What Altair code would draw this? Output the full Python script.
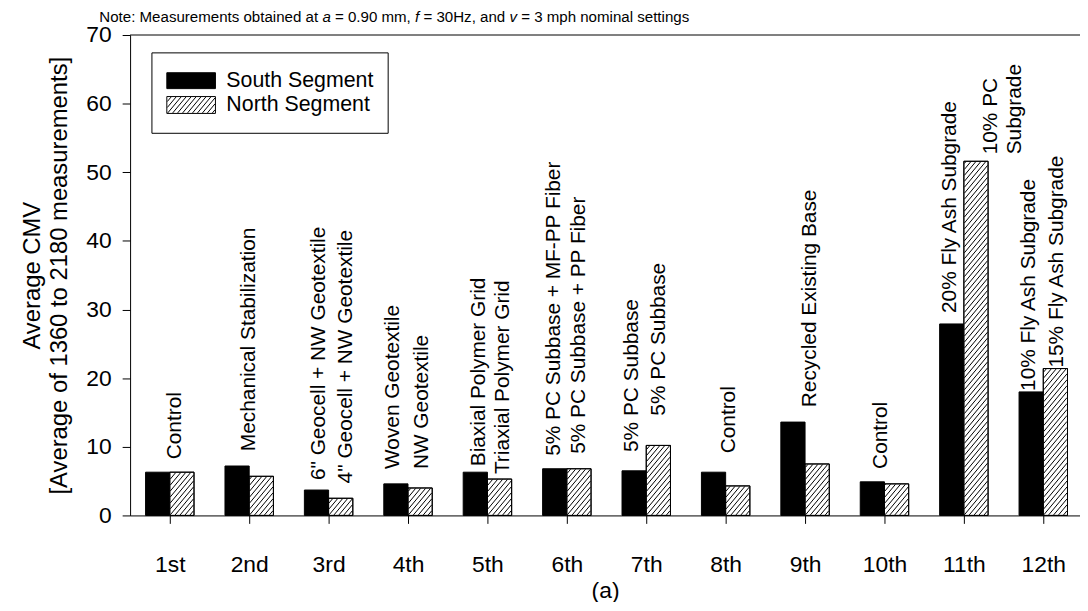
import json
import altair as alt
import numpy as np
import pandas as pd

# ---------------- data ----------------
ordinals = ["1st", "2nd", "3rd", "4th", "5th", "6th", "7th", "8th", "9th", "10th", "11th", "12th"]
south_cmv = [6.3, 7.2, 3.7, 4.6, 6.3, 6.8, 6.5, 6.3, 13.6, 4.9, 27.9, 18.0]
north_cmv = [6.3, 5.7, 2.5, 4.0, 5.3, 6.8, 10.2, 4.3, 7.5, 4.6, 51.6, 21.4]

label_section = [1, 2, 3, 3, 4, 4, 5, 5, 6, 6, 7, 7, 8, 9, 10, 11, 11, 12, 12]
label_side = ["C", "C", "S", "N", "S", "N", "S", "N", "S", "N", "S", "N", "C", "C", "C", "S", "N", "S", "N"]
label_text = [
    "Control",
    "Mechanical Stabilization",
    '6" Geocell + NW Geotextile',
    '4" Geocell + NW Geotextile',
    "Woven Geotextile",
    "NW Geotextile",
    "Biaxial Polymer Grid",
    "Triaxial Polymer Grid",
    "5% PC Subbase + MF-PP Fiber",
    "5% PC Subbase + PP Fiber",
    "5% PC Subbase",
    "5% PC Subbase",
    "Control",
    "Recycled Existing Base",
    "Control",
    "20% Fly Ash Subgrade",
    "10% PC\nSubgrade",
    "10% Fly Ash Subgrade",
    "15% Fly Ash Subgrade",
]

legend_names = ["South Segment", "North Segment"]
y_title = ["Average CMV", "[Average of 1360 to 2180 measurements]"]
x_title = "(a)"
note_parts = [
    ("Note: Measurements obtained at ", "normal"),
    ("a", "italic"),
    (" = 0.90 mm, ", "normal"),
    ("f", "italic"),
    (" = 30Hz, and ", "normal"),
    ("v", "italic"),
    (" = 3 mph nominal settings", "normal"),
]

# ---------------- layout (pixels) ----------------
FONT = "Liberation Sans"
W, H = 957, 484
XMIN, XMAX = 0.5, 12.4625
YMAX = 70
PXX = W / (XMAX - XMIN)
PXY = H / YMAX
BAR_W = 0.305
label_gap_px = [13, 15, 10, 15, 15, 19, 6, 5, 13, 15, 19, 30, 19, 15, 13, 11, 7, 1, 1]
label_dx_px = [5, 0, 3, 5, -3, 2, 4, 4, -1, 0, -2, 1, 3, 5, -3, -2, 15, -2, 2]
HATCH_D = 6.0
HATCH_S = 1.2


def to_x(px):
    return XMIN + px / PXX


def to_y(py_up):
    return py_up / PXY


def hatch(xa, xb, ya, yb, d=HATCH_D, s=HATCH_S):
    segs = []
    kmin = int(np.floor((ya - s * xb) / d)) - 1
    kmax = int(np.ceil((yb - s * xa) / d)) + 1
    for k in range(kmin, kmax + 1):
        c = k * d
        u0 = max(xa, (ya - c) / s)
        u1 = min(xb, (yb - c) / s)
        if u1 - u0 > 0.4:
            segs.append((to_x(u0), to_y(s * u0 + c), to_x(u1), to_y(s * u1 + c)))
    return segs


# ---------------- tables ----------------
rows = []
for i, (s, n) in enumerate(zip(south_cmv, north_cmv), start=1):
    rows.append({"x": i - BAR_W, "x2": i, "y": s, "y0": 0, "fill": "black", "seg": "S"})
    rows.append({"x": i, "x2": i + BAR_W, "y": n, "y0": 0, "fill": "white", "seg": "N"})
bars = pd.DataFrame(rows)
north_bars = bars[bars.seg == "N"]

hseg = []
for _, r in north_bars.iterrows():
    xa = (r.x - XMIN) * PXX + 0.5
    xb = (r.x2 - XMIN) * PXX - 0.5
    hseg += hatch(xa, xb, 0.5, r.y * PXY - 0.5)
hatch_df = pd.DataFrame(hseg, columns=["x", "y", "x2", "y2"])

lrows = []
for sec, side, txt, gap, dx in zip(label_section, label_side, label_text, label_gap_px, label_dx_px):
    s, n = south_cmv[sec - 1], north_cmv[sec - 1]
    if side == "S":
        base_x, base_y = sec - BAR_W / 2, s
    elif side == "N":
        base_x, base_y = sec + BAR_W / 2, n
    else:
        base_x, base_y = sec, max(s, n)
    lrows.append({"x": base_x + dx / PXX, "y": base_y + gap / PXY, "text": txt})
labels = pd.DataFrame(lrows)

# legend (plot pixel coords, measured from top of plot)
LBOX = (22, 260, 18, 99)
LSW = [(37, 86, 38, 54), (37, 86, 62, 79)]
LTXT_X, LTXT_Y = 97, [46, 70.5]


def box_row(b):
    x0, x1, t0, t1 = b
    return {"x": to_x(x0), "x2": to_x(x1), "y": to_y(H - t0), "y0": to_y(H - t1)}


leg_box = pd.DataFrame([box_row(LBOX)])
leg_sw = pd.DataFrame([dict(box_row(LSW[0]), fill="black"), dict(box_row(LSW[1]), fill="white")])
x0, x1, t0, t1 = LSW[1]
leg_hatch = pd.DataFrame(hatch(x0 + 0.5, x1 - 0.5, H - t1 + 0.5, H - t0 - 0.5), columns=["x", "y", "x2", "y2"])
leg_txt = pd.DataFrame({"x": [to_x(LTXT_X)] * 2, "y": [to_y(H - t) for t in LTXT_Y], "text": legend_names})

# ---------------- chart ----------------
xs = alt.Scale(domain=[XMIN, XMAX], nice=False, zero=False)
ys = alt.Scale(domain=[0, YMAX], nice=False, zero=True)
label_expr = json.dumps(ordinals) + "[datum.value - 1]"

bar_layer = alt.Chart(bars).mark_rect(stroke="black", strokeWidth=1).encode(
    x=alt.X("x:Q", scale=xs, title=x_title, axis=alt.Axis(
        values=list(range(1, 13)), labelExpr=label_expr, title=x_title,
        titleFontSize=23, titleFontWeight="normal", titleY=65,
        labelFontSize=23, labelPadding=30, labelAngle=0, labelFlush=False, labelOverlap=False,
        tickSize=8, grid=False)),
    x2="x2:Q",
    y=alt.Y("y:Q", scale=ys, title=y_title, axis=alt.Axis(
        values=list(range(0, 71, 10)), title=y_title, titleFontSize=24,
        titleFontWeight="normal", titleLineHeight=27, titleX=-86,
        labelFontSize=23, labelPadding=11, labelFlush=False, tickSize=8, grid=False)),
    y2="y0:Q",
    fill=alt.Fill("fill:N", scale=None),
)

nx = alt.X("x:Q", scale=xs, title=x_title)
ny = alt.Y("y:Q", scale=ys, title=y_title)

hatch_layer = alt.Chart(hatch_df).mark_rule(color="black", strokeWidth=1).encode(
    x=nx, x2="x2:Q", y=ny, y2="y2:Q")
outline_layer = alt.Chart(north_bars).mark_rect(fillOpacity=0, stroke="black", strokeWidth=1).encode(
    x=nx, x2="x2:Q", y=ny, y2="y0:Q")
top_rule = alt.Chart(pd.DataFrame({"y": [YMAX]})).mark_rule(color="black", strokeWidth=1).encode(y=ny)

label_layer = alt.Chart(labels).mark_text(
    angle=270, align="left", baseline="middle", fontSize=21, font=FONT,
    color="black", lineBreak="\n", lineHeight=24).encode(x=nx, y=ny, text="text:N")

leg_box_layer = alt.Chart(leg_box).mark_rect(fill="white", stroke="black", strokeWidth=1).encode(
    x=nx, x2="x2:Q", y=ny, y2="y0:Q")
leg_sw_layer = alt.Chart(leg_sw).mark_rect(stroke="black", strokeWidth=1).encode(
    x=nx, x2="x2:Q", y=ny, y2="y0:Q", fill=alt.Fill("fill:N", scale=None))
leg_hatch_layer = alt.Chart(leg_hatch).mark_rule(color="black", strokeWidth=1).encode(
    x=nx, x2="x2:Q", y=ny, y2="y2:Q")
leg_txt_layer = alt.Chart(leg_txt).mark_text(
    align="left", baseline="middle", fontSize=21.5, font=FONT, color="black").encode(
    x=nx, y=ny, text="text:N")

# note with italic variables
AW = {' ': 278, 'N': 722, 'o': 556, 't': 278, 'e': 556, ':': 278, 'M': 833, 'a': 556, 's': 500,
      'u': 556, 'r': 333, 'm': 833, 'n': 556, 'b': 556, 'i': 222, 'd': 556, '=': 584, '0': 556,
      '.': 278, '9': 556, ',': 278, 'f': 278, '3': 556, 'H': 722, 'z': 500, 'v': 500, 'p': 556,
      'h': 556, 'l': 222, 'g': 556}
NOTE_FS = 15.2
NOTE_X, NOTE_Y = -31, -13


def tw(s):
    return sum(AW.get(c, 556) for c in s) * NOTE_FS / 1000


dummy = pd.DataFrame({"k": [0]})
note_layers = []
cursor = NOTE_X
for txt, style in note_parts:
    lead = len(txt) - len(txt.lstrip(" "))
    note_layers.append(
        alt.Chart(dummy).mark_text(
            text=txt.strip(), align="left", baseline="alphabetic", fontSize=NOTE_FS,
            font=FONT, fontStyle=style, color="black").encode(
            x=alt.value(cursor + tw(txt[:lead])), y=alt.value(NOTE_Y)))
    cursor += tw(txt)

chart = alt.layer(
    bar_layer, hatch_layer, outline_layer, top_rule, label_layer,
    leg_box_layer, leg_sw_layer, leg_hatch_layer, leg_txt_layer, *note_layers,
).properties(
    width=W, height=H,
    autosize=alt.AutoSizeParams(type="none"),
    padding={"left": 123, "top": 25, "right": 0, "bottom": 85},
    background="white",
).configure_view(stroke=None).configure_axis(
    domainColor="black", domainWidth=1, tickColor="black", tickWidth=1,
    labelColor="black", titleColor="black", labelFont=FONT, titleFont=FONT,
).configure_text(font=FONT)

chart.save("out.html", embed_options={"renderer": "svg", "actions": False})
